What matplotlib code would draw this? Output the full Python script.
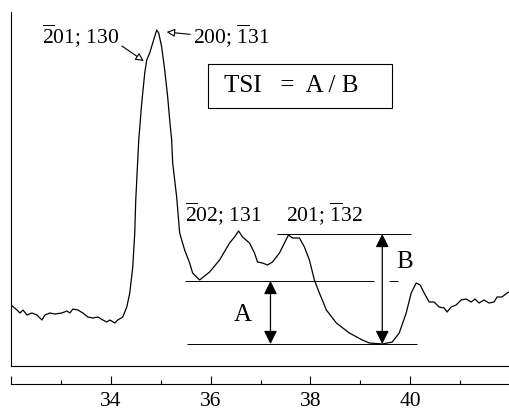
import matplotlib
matplotlib.use("Agg")
import matplotlib.pyplot as plt
from matplotlib.patches import Rectangle

plt.rcParams['font.family'] = ['Liberation Serif', 'DejaVu Serif']
plt.rcParams['mathtext.fontset'] = 'custom'
plt.rcParams['mathtext.rm'] = 'Liberation Serif'
plt.rcParams['mathtext.it'] = 'Liberation Serif:italic'

# ---- data (2-theta in degrees, intensity in arbitrary units) ----
two_theta = [32.00, 32.12, 32.18, 32.24, 32.32, 32.42, 32.52, 32.62, 32.68, 32.78,
             32.88, 33.02, 33.12, 33.18, 33.24, 33.34, 33.44, 33.54, 33.64, 33.74,
             33.84, 33.92, 33.98, 34.08, 34.14, 34.24, 34.32, 34.38, 34.44, 34.48,
             34.50, 34.56, 34.62, 34.68, 34.72, 34.78, 34.84, 34.92, 34.96, 35.02,
             35.08, 35.14, 35.18, 35.22, 35.24, 35.32, 35.38, 35.48, 35.58, 35.64,
             35.74, 35.78, 35.98, 36.18, 36.38, 36.48, 36.56, 36.64, 36.78, 36.88,
             36.94, 37.04, 37.14, 37.24, 37.38, 37.48, 37.56, 37.64, 37.78, 37.88,
             37.98, 38.08, 38.18, 38.32, 38.52, 38.78, 39.04, 39.18, 39.44, 39.64,
             39.78, 39.92, 40.02, 40.12, 40.20, 40.28, 40.38, 40.48, 40.58, 40.68,
             40.74, 40.82, 40.92, 41.02, 41.12, 41.22, 41.30, 41.38, 41.48, 41.58,
             41.68, 41.74, 41.84, 41.94, 41.98]
intensity = [61, 56, 53, 56, 51, 53, 51, 46, 51, 53,
             52, 53, 55, 53, 57, 56, 53, 49, 48, 49,
             46, 44, 46, 43, 46, 49, 59, 73, 99, 133,
             166, 226, 263, 293, 306, 313, 323, 336, 333, 319,
             296, 269, 246, 226, 203, 169, 133, 116, 103, 93,
             88, 86, 94, 106, 123, 129, 135, 129, 123, 113,
             104, 103, 101, 104, 113, 123, 131, 128, 128, 119,
             106, 86, 73, 56, 43, 33, 26, 23, 22, 24,
             33, 53, 73, 83, 81, 73, 64, 64, 59, 58,
             54, 59, 61, 66, 67, 64, 67, 63, 66, 63,
             64, 69, 69, 73, 74]

tick_values = [32, 34, 36, 38, 40]
tick_labels = ['', '34', '36', '38', '40']
minor_ticks = [33, 35, 37, 39, 41]

# TSI construction levels
level_B_top = 132      # top of 201;-132 peak
level_A_top = 85       # valley between main peak and 202;131
level_base = 22        # minimum near 39.5
x_arrow_A = 37.20
x_arrow_B = 39.44

peak_labels = [r'$\overline{\mathrm{2}}$01; 130', r'200; $\overline{\mathrm{1}}$31',
               r'$\overline{\mathrm{2}}$02; 131', r'201; $\overline{\mathrm{1}}$32']

W, H = 510, 411
fig = plt.figure(figsize=(W / 100, H / 100), dpi=100)
ax = fig.add_axes([11 / W, (H - 366) / H, 499 / W, 354 / H])
ax.set_xlim(32, 42)
ax.set_ylim(0, 354)
for s in ['top', 'right']:
    ax.spines[s].set_visible(False)
for s in ['left', 'bottom']:
    ax.spines[s].set_linewidth(0.8)
ax.set_xticks([])
ax.set_yticks([])

ax.plot(two_theta, intensity, color='black', lw=0.9)

# horizontal reference lines
ax.hlines(level_B_top, 37.34, 40.02, color='black', lw=0.7)
ax.hlines(level_A_top, 35.48, 39.28, color='black', lw=0.7)
ax.hlines(level_A_top, 39.58, 39.76, color='black', lw=0.7)
ax.hlines(level_base, 35.52, 40.14, color='black', lw=0.7)

# double arrows
for xa, top in [(x_arrow_A, level_A_top), (x_arrow_B, level_B_top)]:
    ax.annotate('', xy=(xa, top), xytext=(xa, level_base),
                arrowprops=dict(arrowstyle='<|-|>', color='black', lw=0.9,
                                mutation_scale=20, shrinkA=0, shrinkB=0))

fs = 15.5
def fx(px):
    return px / W
def fy(py):
    return 1 - py / H

ax.text(fx(243), fy(315), 'A', transform=fig.transFigure, fontsize=18,
        ha='center', va='center')
ax.text(fx(405), fy(262), 'B', transform=fig.transFigure, fontsize=18,
        ha='center', va='center')

# peak labels with arrows
ax.annotate(peak_labels[0], xy=(34.66, 305), xycoords='data',
            xytext=(fx(42), fy(36)), textcoords='figure fraction',
            fontsize=fs, ha='left', va='center',
            arrowprops=dict(arrowstyle='-|>', fc='white', ec='black', lw=0.8,
                            mutation_scale=12, shrinkA=0, shrinkB=0,
                            relpos=(1.0, 0.2)))
ax.annotate(peak_labels[1], xy=(35.12, 334), xycoords='data',
            xytext=(fx(193), fy(36)), textcoords='figure fraction',
            fontsize=fs, ha='left', va='center',
            arrowprops=dict(arrowstyle='-|>', fc='white', ec='black', lw=0.8,
                            mutation_scale=12, shrinkA=0, shrinkB=0,
                            relpos=(0.0, 0.55)))
ax.text(fx(185), fy(214), peak_labels[2], transform=fig.transFigure,
        fontsize=fs, ha='left', va='center')
ax.text(fx(286), fy(214), peak_labels[3], transform=fig.transFigure,
        fontsize=fs, ha='left', va='center')

# TSI box
fig.patches.append(Rectangle((fx(208), fy(108)), 184 / W, 44 / H,
                             transform=fig.transFigure, fill=False,
                             ec='black', lw=0.8))
fig.text(fx(224), fy(86), 'TSI   =  A / B', fontsize=18, ha='left', va='center')

# separate tick axis below
ax2 = fig.add_axes([11 / W, (H - 384) / H, 499 / W, 0.0001])
ax2.set_xlim(32, 42)
for s in ['top', 'right', 'left']:
    ax2.spines[s].set_visible(False)
ax2.spines['bottom'].set_linewidth(0.8)
ax2.set_yticks([])
ax2.set_xticks(tick_values)
ax2.set_xticklabels(tick_labels)
ax2.set_xticks(minor_ticks, minor=True)
ax2.tick_params(axis='x', which='major', direction='in', length=6, width=0.8,
                labelsize=fs, pad=6)
ax2.tick_params(axis='x', which='minor', direction='in', length=3, width=0.8)

fig.savefig('out.png', dpi=100)
